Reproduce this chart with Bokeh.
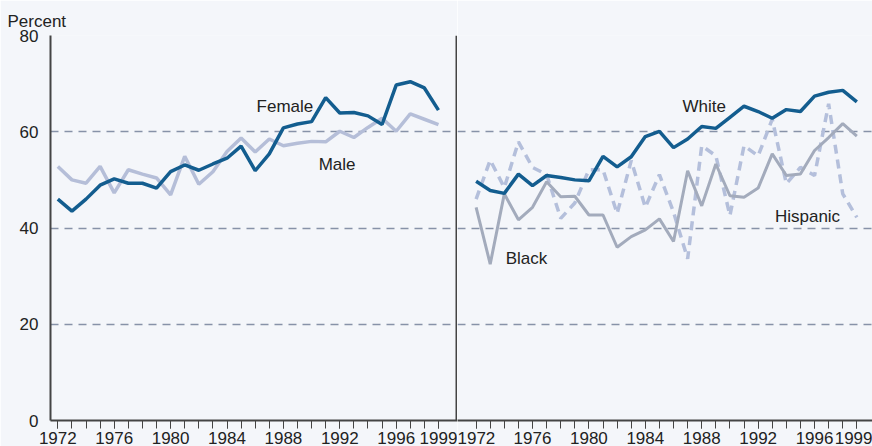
from bokeh.plotting import figure
from bokeh.layouts import row
from bokeh.models import FixedTicker, Label, Range1d
from bokeh.embed import file_html
from bokeh.resources import INLINE

years = list(range(1972, 2000))
female = [46.0, 43.5, 46.0, 48.9, 50.2, 49.3, 49.3, 48.3, 51.7, 53.1, 52.0, 53.3, 54.5, 57.0,
          51.9, 55.4, 60.8, 61.6, 62.1, 67.1, 63.9, 64.0, 63.3, 61.5, 69.7, 70.4, 69.1, 64.5]
male = [52.8, 50.0, 49.3, 52.8, 47.3, 52.1, 51.2, 50.4, 46.9, 54.9, 49.1, 51.7, 55.9, 58.7,
        55.8, 58.5, 57.1, 57.6, 58.0, 57.9, 60.1, 58.8, 60.9, 62.8, 60.1, 63.7, 62.6, 61.5]
white = [49.7, 47.8, 47.2, 51.2, 48.8, 50.9, 50.5, 50.0, 49.8, 54.9, 52.7, 54.8, 59.0, 60.1,
         56.7, 58.5, 61.1, 60.7, 63.0, 65.3, 64.2, 62.8, 64.6, 64.2, 67.4, 68.2, 68.6, 66.2]
black = [44.3, 32.5, 47.1, 41.7, 44.3, 49.6, 46.5, 46.6, 42.7, 42.7, 36.0, 38.2, 39.6, 41.9,
         37.2, 51.9, 44.6, 53.3, 46.7, 46.4, 48.3, 55.4, 50.9, 51.2, 56.1, 58.8, 61.7, 59.1]
hispanic = [46.0, 54.1, 48.4, 57.9, 52.6, 51.1, 42.0, 45.2, 52.1, 52.1, 43.0, 54.0, 44.3, 51.1,
            43.3, 33.6, 57.1, 55.0, 42.6, 57.1, 55.0, 62.6, 49.2, 52.6, 50.9, 65.8, 47.1, 42.2]
y_ticks = [0, 20, 40, 60, 80]
x_label_years = [1972, 1976, 1980, 1984, 1988, 1992, 1996, 1999]

DARK = "#135d8f"
MALE_C = "#b5bed8"
BLACK_C = "#a3abbc"
HISP_C = "#b4bfdb"
GRID_C = "#8792a8"
AXIS_C = "#444444"
BG = "#f4f6fa"
FONT = "Liberation Sans"
FS = "17px"

H = 446


def base(width, border_left, border_right):
    p = figure(width=width, height=H, output_backend="svg", toolbar_location=None,
               min_border_left=border_left, min_border_right=border_right,
               min_border_top=35, min_border_bottom=26,
               background_fill_color=BG, border_fill_color=BG, outline_line_color=None,
               y_range=Range1d(0, 80))
    p.ygrid.ticker = FixedTicker(ticks=y_ticks)
    p.ygrid.grid_line_color = GRID_C
    p.ygrid.grid_line_dash = "8 6"
    p.ygrid.grid_line_width = 1.5
    p.xgrid.grid_line_color = None
    xa = p.xaxis[0]
    xa.ticker = FixedTicker(ticks=x_label_years, minor_ticks=years)
    xa.axis_line_color = AXIS_C
    xa.axis_line_width = 2
    xa.major_tick_line_color = AXIS_C
    xa.minor_tick_line_color = AXIS_C
    xa.major_tick_in = 0
    xa.minor_tick_in = 0
    xa.major_tick_out = 8
    xa.minor_tick_out = 8
    xa.major_label_standoff = 3
    xa.major_label_text_font = FONT
    xa.major_label_text_font_size = FS
    xa.major_label_text_color = "#222222"
    xa.formatter.use_scientific = False
    return p


# Left panel
left = base(457, 50, 0)
left.x_range = Range1d(1971.48, 2000.35)
ya = left.yaxis[0]
ya.ticker = FixedTicker(ticks=y_ticks)
ya.axis_line_color = AXIS_C
ya.axis_line_width = 2
ya.major_tick_line_color = None
ya.minor_tick_line_color = None
ya.major_tick_out = 0
ya.minor_tick_out = 0
ya.major_label_standoff = 12
ya.major_label_text_font = FONT
ya.major_label_text_font_size = FS
ya.major_label_text_color = "#222222"
ya.major_label_text_baseline = "top"
left.title.text = "Percent"
left.title.align = "left"
left.title.offset = -43
left.title.standoff = 9
left.title.text_font = FONT
left.title.text_font_size = FS
left.title.text_font_style = "normal"
left.title.text_color = "#222222"

left.line(years, male, line_color=MALE_C, line_width=3.5)
left.line(years, female, line_color=DARK, line_width=3.5)
# divider line on right edge of left panel (half of it is clipped by the frame)
left.line([2000.35, 2000.35], [0, 80], line_color=AXIS_C, line_width=4)

for txt, x, y in [("Female", 1986.1, 65.2), ("Male", 1990.5, 53.2)]:
    left.add_layout(Label(x=x, y=y, text=txt, text_font=FONT, text_font_size=FS,
                          text_color="#222222", text_baseline="alphabetic"))

# Right panel
right = base(415, 0, 0)
right.x_range = Range1d(1970.68, 2000.11)
right.yaxis.visible = False
right.line(years, hispanic, line_color=HISP_C, line_width=3.5, line_dash="9 6")
right.line(years, black, line_color=BLACK_C, line_width=3)
right.line(years, white, line_color=DARK, line_width=3.5)

for txt, x, y in [("White", 1986.63, 65.3), ("Hispanic", 1993.19, 42.4), ("Black", 1974.1, 33.6)]:
    right.add_layout(Label(x=x, y=y, text=txt, text_font=FONT, text_font_size=FS,
                           text_color="#222222", text_baseline="alphabetic"))

layout = row(left, right, spacing=0)
html = file_html(layout, INLINE)
html = html.replace("<body>", '<body style="background:%s">' % BG, 1)
open("out.html", "w").write(html)
